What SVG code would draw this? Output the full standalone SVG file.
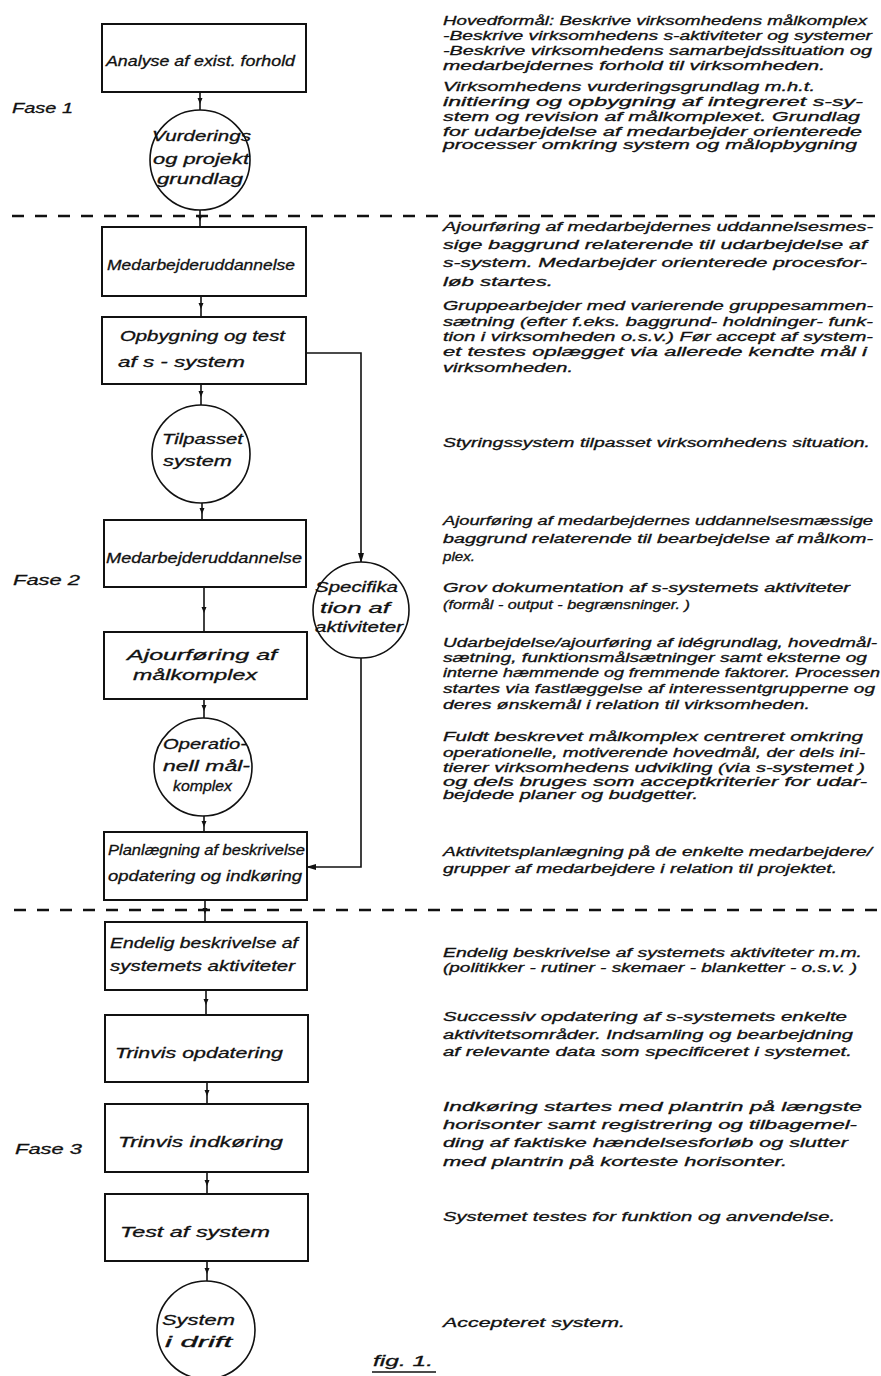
<svg xmlns="http://www.w3.org/2000/svg" width="881" height="1376" viewBox="0 0 881 1376">
<style>
.bg{fill:#fff}
.box{fill:#fff;stroke:#111;stroke-width:2}
.circ{fill:#fff;stroke:#111;stroke-width:1.6}
.con{fill:none;stroke:#111;stroke-width:1.6}
.dash{fill:none;stroke:#111;stroke-width:2.5;stroke-dasharray:12 11}
.t{font-family:"Liberation Sans",Arial,sans-serif;font-style:italic;font-size:12.5px;fill:#111;stroke:#111;stroke-width:0.3}
.lb{font-family:"Liberation Sans",Arial,sans-serif;font-style:italic;font-size:14.5px;fill:#111;stroke:#111;stroke-width:0.3}
.ph{font-family:"Liberation Sans",Arial,sans-serif;font-style:italic;font-size:15px;fill:#111;stroke:#111;stroke-width:0.3}
</style>
<defs>
<marker id="mid" markerWidth="6" markerHeight="6" refX="3" refY="3" orient="auto" markerUnits="userSpaceOnUse"><path d="M0,0.5 L6,3 L0,5.5 z" fill="#111"/></marker>
<marker id="end" markerWidth="10" markerHeight="8" refX="9" refY="4" orient="auto" markerUnits="userSpaceOnUse"><path d="M0,1 L10,4 L0,7 z" fill="#111"/></marker>
</defs>
<rect class="bg" x="0" y="0" width="881" height="1376"/>

<g id="separators">
<path class="dash" d="M12 216 H881"/>
<path class="dash" d="M14 910 H881"/>
</g>

<g id="connectors">
<path class="con" marker-mid="url(#mid)" d="M200 92 L200 101 L200 110"/>
<path class="con" marker-mid="url(#mid)" d="M200 210 L200 218 L200 227"/>
<path class="con" marker-mid="url(#mid)" d="M201 296 L201 306 L201 317"/>
<path class="con" marker-mid="url(#mid)" d="M201 384 L201 394 L201 405"/>
<path class="con" marker-mid="url(#mid)" d="M202 503 L202 511 L202 520"/>
<path class="con" marker-mid="url(#mid)" d="M204 587 L204 610 L204 632"/>
<path class="con" marker-mid="url(#mid)" d="M204 699 L204 708 L204 718"/>
<path class="con" marker-mid="url(#mid)" d="M204 816 L204 824 L204 832"/>
<path class="con" marker-mid="url(#mid)" d="M205 900 L205 911 L205 922"/>
<path class="con" marker-mid="url(#mid)" d="M206 990 L206 1002 L206 1015"/>
<path class="con" marker-mid="url(#mid)" d="M207 1082 L207 1093 L207 1104"/>
<path class="con" marker-mid="url(#mid)" d="M207 1172 L207 1183 L207 1194"/>
<path class="con" marker-mid="url(#mid)" d="M207 1261 L207 1271 L207 1281"/>
<path class="con" marker-end="url(#end)" d="M306 353 L361 353 L361 562"/>
<path class="con" marker-end="url(#end)" d="M361 658 L361 867 L307 867"/>
</g>

<g id="phases">
<text class="ph" x="12" y="113" textLength="61" lengthAdjust="spacingAndGlyphs">Fase 1</text>
<text class="ph" x="13" y="585" textLength="67" lengthAdjust="spacingAndGlyphs">Fase 2</text>
<text class="ph" x="15" y="1154" textLength="67" lengthAdjust="spacingAndGlyphs">Fase 3</text>
</g>

<g id="n-analyse">
<rect class="box" x="102" y="24" width="204" height="68"/>
<text class="lb" x="106" y="66" textLength="189" lengthAdjust="spacingAndGlyphs">Analyse af exist. forhold</text>
</g>
<g id="n-vurdering">
<circle class="circ" cx="200" cy="160" r="50"/>
<text class="lb" x="152" y="141" textLength="99" lengthAdjust="spacingAndGlyphs">Vurderings</text>
<text class="lb" x="153" y="164" textLength="96" lengthAdjust="spacingAndGlyphs">og projekt</text>
<text class="lb" x="157" y="184" textLength="86" lengthAdjust="spacingAndGlyphs">grundlag</text>
</g>
<g id="n-medarb1">
<rect class="box" x="102" y="227" width="204" height="69"/>
<text class="lb" x="107" y="270" textLength="188" lengthAdjust="spacingAndGlyphs">Medarbejderuddannelse</text>
</g>
<g id="n-opbygning">
<rect class="box" x="102" y="317" width="204" height="67"/>
<text class="lb" x="120" y="341" textLength="165" lengthAdjust="spacingAndGlyphs">Opbygning og test</text>
<text class="lb" x="118" y="367" textLength="127" lengthAdjust="spacingAndGlyphs">af s - system</text>
</g>
<g id="n-tilpasset">
<circle class="circ" cx="201" cy="454" r="49"/>
<text class="lb" x="162" y="444" textLength="81" lengthAdjust="spacingAndGlyphs">Tilpasset</text>
<text class="lb" x="163" y="466" textLength="69" lengthAdjust="spacingAndGlyphs">system</text>
</g>
<g id="n-medarb2">
<rect class="box" x="104" y="520" width="202" height="67"/>
<text class="lb" x="106" y="563" textLength="196" lengthAdjust="spacingAndGlyphs">Medarbejderuddannelse</text>
</g>
<g id="n-specifikation">
<circle class="circ" cx="361" cy="610" r="48"/>
<text class="lb" x="315" y="592" textLength="83" lengthAdjust="spacingAndGlyphs">Specifika</text>
<text class="lb" x="320" y="613" textLength="70" lengthAdjust="spacingAndGlyphs">tion af</text>
<text class="lb" x="315" y="632" textLength="88" lengthAdjust="spacingAndGlyphs">aktiviteter</text>
</g>
<g id="n-ajour">
<rect class="box" x="104" y="632" width="203" height="67"/>
<text class="lb" x="127" y="660" textLength="150" lengthAdjust="spacingAndGlyphs">Ajourføring af</text>
<text class="lb" x="133" y="680" textLength="124" lengthAdjust="spacingAndGlyphs">målkomplex</text>
</g>
<g id="n-operationel">
<circle class="circ" cx="203" cy="767" r="49"/>
<text class="lb" x="163" y="749" textLength="84" lengthAdjust="spacingAndGlyphs">Operatio-</text>
<text class="lb" x="163" y="771" textLength="87" lengthAdjust="spacingAndGlyphs">nell mål-</text>
<text class="lb" x="173" y="791" textLength="59" lengthAdjust="spacingAndGlyphs">komplex</text>
</g>
<g id="n-planlaegning">
<rect class="box" x="104" y="832" width="203" height="68"/>
<text class="lb" x="108" y="855" textLength="197" lengthAdjust="spacingAndGlyphs">Planlægning af beskrivelse</text>
<text class="lb" x="108" y="881" textLength="194" lengthAdjust="spacingAndGlyphs">opdatering og indkøring</text>
</g>
<g id="n-endelig">
<rect class="box" x="105" y="922" width="202" height="68"/>
<text class="lb" x="110" y="948" textLength="188" lengthAdjust="spacingAndGlyphs">Endelig beskrivelse af</text>
<text class="lb" x="110" y="971" textLength="185" lengthAdjust="spacingAndGlyphs">systemets aktiviteter</text>
</g>
<g id="n-trinopd">
<rect class="box" x="105" y="1015" width="203" height="67"/>
<text class="lb" x="115" y="1058" textLength="168" lengthAdjust="spacingAndGlyphs">Trinvis opdatering</text>
</g>
<g id="n-trinind">
<rect class="box" x="105" y="1104" width="203" height="68"/>
<text class="lb" x="118" y="1147" textLength="165" lengthAdjust="spacingAndGlyphs">Trinvis indkøring</text>
</g>
<g id="n-test">
<rect class="box" x="105" y="1194" width="203" height="67"/>
<text class="lb" x="120" y="1237" textLength="150" lengthAdjust="spacingAndGlyphs">Test af system</text>
</g>
<g id="n-drift">
<circle class="circ" cx="206" cy="1330" r="49"/>
<text class="lb" x="162" y="1325" textLength="73" lengthAdjust="spacingAndGlyphs">System</text>
<text class="lb" x="165" y="1347" textLength="67" lengthAdjust="spacingAndGlyphs">i drift</text>
</g>

<g id="fig-label">
<text class="ph" x="373" y="1366" textLength="60" lengthAdjust="spacingAndGlyphs">fig. 1.</text>
<path d="M372 1372 H436" stroke="#111" stroke-width="1.5"/>
</g>

<g id="notes">
<text class="t" x="443" y="25" textLength="424" lengthAdjust="spacingAndGlyphs">Hovedformål: Beskrive virksomhedens målkomplex</text>
<text class="t" x="443" y="40" textLength="429" lengthAdjust="spacingAndGlyphs">-Beskrive virksomhedens s-aktiviteter og systemer</text>
<text class="t" x="443" y="55" textLength="429" lengthAdjust="spacingAndGlyphs">-Beskrive virksomhedens samarbejdssituation og</text>
<text class="t" x="443" y="70" textLength="382" lengthAdjust="spacingAndGlyphs">medarbejdernes forhold til virksomheden.</text>
<text class="t" x="443" y="91" textLength="372" lengthAdjust="spacingAndGlyphs">Virksomhedens vurderingsgrundlag m.h.t.</text>
<text class="t" x="443" y="106" textLength="420" lengthAdjust="spacingAndGlyphs">initiering og opbygning af integreret s-sy-</text>
<text class="t" x="443" y="121" textLength="417" lengthAdjust="spacingAndGlyphs">stem og revision af målkomplexet. Grundlag</text>
<text class="t" x="443" y="136" textLength="419" lengthAdjust="spacingAndGlyphs">for udarbejdelse af medarbejder orienterede</text>
<text class="t" x="443" y="149" textLength="414" lengthAdjust="spacingAndGlyphs">processer omkring system og målopbygning</text>

<text class="t" x="443" y="231" textLength="430" lengthAdjust="spacingAndGlyphs">Ajourføring af medarbejdernes uddannelsesmes-</text>
<text class="t" x="443" y="249" textLength="424" lengthAdjust="spacingAndGlyphs">sige baggrund relaterende til udarbejdelse af</text>
<text class="t" x="443" y="267" textLength="424" lengthAdjust="spacingAndGlyphs">s-system. Medarbejder orienterede procesfor-</text>
<text class="t" x="443" y="286" textLength="110" lengthAdjust="spacingAndGlyphs">løb startes.</text>
<text class="t" x="443" y="310" textLength="430" lengthAdjust="spacingAndGlyphs">Gruppearbejder med varierende gruppesammen-</text>
<text class="t" x="443" y="326" textLength="430" lengthAdjust="spacingAndGlyphs">sætning (efter f.eks. baggrund- holdninger- funk-</text>
<text class="t" x="443" y="341" textLength="430" lengthAdjust="spacingAndGlyphs">tion i virksomheden o.s.v.) Før accept af system-</text>
<text class="t" x="443" y="356" textLength="424" lengthAdjust="spacingAndGlyphs">et testes oplægget via allerede kendte mål i</text>
<text class="t" x="443" y="372" textLength="130" lengthAdjust="spacingAndGlyphs">virksomheden.</text>
<text class="t" x="443" y="447" textLength="427" lengthAdjust="spacingAndGlyphs">Styringssystem tilpasset virksomhedens situation.</text>

<text class="t" x="443" y="525" textLength="430" lengthAdjust="spacingAndGlyphs">Ajourføring af medarbejdernes uddannelsesmæssige</text>
<text class="t" x="443" y="543" textLength="430" lengthAdjust="spacingAndGlyphs">baggrund relaterende til bearbejdelse af målkom-</text>
<text class="t" x="443" y="561" textLength="32" lengthAdjust="spacingAndGlyphs">plex.</text>
<text class="t" x="443" y="592" textLength="407" lengthAdjust="spacingAndGlyphs">Grov dokumentation af s-systemets aktiviteter</text>
<text class="t" x="443" y="609" textLength="247" lengthAdjust="spacingAndGlyphs">(formål - output - begrænsninger. )</text>
<text class="t" x="443" y="647" textLength="434" lengthAdjust="spacingAndGlyphs">Udarbejdelse/ajourføring af idégrundlag, hovedmål-</text>
<text class="t" x="443" y="662" textLength="424" lengthAdjust="spacingAndGlyphs">sætning, funktionsmålsætninger samt eksterne og</text>
<text class="t" x="443" y="677" textLength="437" lengthAdjust="spacingAndGlyphs">interne hæmmende og fremmende faktorer. Processen</text>
<text class="t" x="443" y="693" textLength="432" lengthAdjust="spacingAndGlyphs">startes via fastlæggelse af interessentgrupperne og</text>
<text class="t" x="443" y="709" textLength="367" lengthAdjust="spacingAndGlyphs">deres ønskemål i relation til virksomheden.</text>
<text class="t" x="443" y="741" textLength="420" lengthAdjust="spacingAndGlyphs">Fuldt beskrevet målkomplex centreret omkring</text>
<text class="t" x="443" y="757" textLength="422" lengthAdjust="spacingAndGlyphs">operationelle, motiverende hovedmål, der dels ini-</text>
<text class="t" x="443" y="772" textLength="422" lengthAdjust="spacingAndGlyphs">tierer virksomhedens udvikling (via s-systemet )</text>
<text class="t" x="443" y="786" textLength="424" lengthAdjust="spacingAndGlyphs">og dels bruges som acceptkriterier for udar-</text>
<text class="t" x="443" y="799" textLength="255" lengthAdjust="spacingAndGlyphs">bejdede planer og budgetter.</text>
<text class="t" x="443" y="856" textLength="429" lengthAdjust="spacingAndGlyphs">Aktivitetsplanlægning på de enkelte medarbejdere/</text>
<text class="t" x="443" y="873" textLength="394" lengthAdjust="spacingAndGlyphs">grupper af medarbejdere i relation til projektet.</text>

<text class="t" x="443" y="957" textLength="419" lengthAdjust="spacingAndGlyphs">Endelig beskrivelse af systemets aktiviteter m.m.</text>
<text class="t" x="443" y="972" textLength="414" lengthAdjust="spacingAndGlyphs">(politikker - rutiner - skemaer - blanketter - o.s.v. )</text>
<text class="t" x="443" y="1021" textLength="404" lengthAdjust="spacingAndGlyphs">Successiv opdatering af s-systemets enkelte</text>
<text class="t" x="443" y="1039" textLength="410" lengthAdjust="spacingAndGlyphs">aktivitetsområder. Indsamling og bearbejdning</text>
<text class="t" x="443" y="1056" textLength="409" lengthAdjust="spacingAndGlyphs">af relevante data som specificeret i systemet.</text>
<text class="t" x="443" y="1111" textLength="419" lengthAdjust="spacingAndGlyphs">Indkøring startes med plantrin på længste</text>
<text class="t" x="443" y="1129" textLength="414" lengthAdjust="spacingAndGlyphs">horisonter samt registrering og tilbagemel-</text>
<text class="t" x="443" y="1147" textLength="405" lengthAdjust="spacingAndGlyphs">ding af faktiske hændelsesforløb og slutter</text>
<text class="t" x="443" y="1166" textLength="344" lengthAdjust="spacingAndGlyphs">med plantrin på korteste horisonter.</text>
<text class="t" x="443" y="1221" textLength="392" lengthAdjust="spacingAndGlyphs">Systemet testes for funktion og anvendelse.</text>
<text class="t" x="443" y="1327" textLength="182" lengthAdjust="spacingAndGlyphs">Accepteret system.</text>
</g>
</svg>
